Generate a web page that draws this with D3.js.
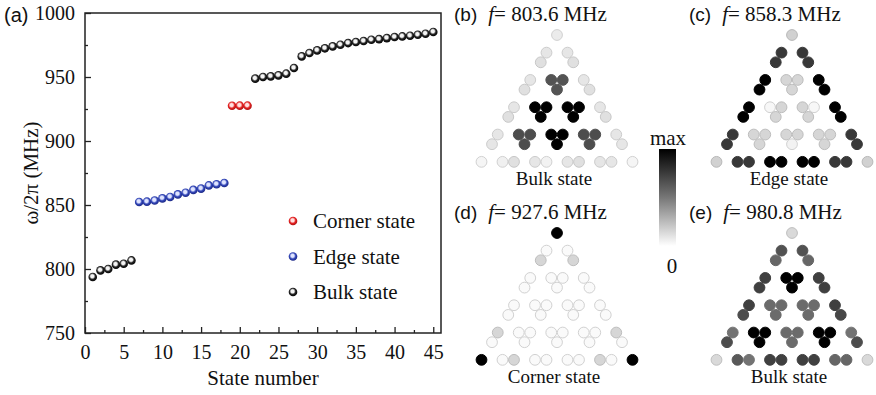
<!DOCTYPE html>
<html>
<head>
<meta charset="utf-8">
<script src="https://cdn.jsdelivr.net/npm/d3@7"></script>
<style>
body { margin: 0; background: #fff; }
text { fill: #111; }
</style>
</head>
<body>
<svg id="fig"></svg>
<script>
var width = 876, height = 395

// (a) eigenfrequencies vs state number
var bulkLowStates = [1, 2, 3, 4, 5, 6]
var bulkLowFreq = [793.8, 798.9, 800.0, 803.4, 804.1, 806.7]
var edgeStates = [7, 8, 9, 10, 11, 12, 13, 14, 15, 16, 17, 18]
var edgeFreq = [852.4, 852.6, 853.5, 855.2, 856.3, 858.3, 859.6, 861.8, 862.8, 865.3, 866.2, 867.2]
var cornerStates = [19, 20, 21]
var cornerFreq = [927.5, 927.6, 927.6]
var bulkHighStates = [22, 23, 24, 25, 26, 27, 28, 29, 30, 31, 32, 33, 34, 35, 36, 37, 38, 39, 40, 41, 42, 43, 44, 45]
var bulkHighFreq = [948.7, 950.0, 950.5, 951.3, 952.6, 957.0, 966.1, 968.7, 970.8, 972.4, 973.9, 975.2,
                    976.5, 977.3, 978.1, 979.1, 979.6, 980.4, 981.2, 981.7, 982.2, 983.0, 983.8, 985.2]
var xTicks = [0, 5, 10, 15, 20, 25, 30, 35, 40, 45]
var yTicks = [750, 800, 850, 900, 950, 1000]
var legendLabels = ["Corner state", "Edge state", "Bulk state"]

// (b)-(e) field amplitude on the 45 sites, one list per row of the triangle (top to bottom)
var fieldB = [[0.08], [0.1, 0.1], [0.12, 0.12], [0.1, 0.67, 0.67, 0.1], [0.12, 0.67, 0.12],
              [0.1, 1, 1, 1, 1, 0.1], [0.12, 1, 1, 0.12], [0.1, 0.7, 0.7, 1, 1, 0.7, 0.7, 0.1],
              [0.1, 0.7, 1, 0.7, 0.1], [0.04, 0.06, 0.12, 0.1, 0.05, 0.1, 0.12, 0.1, 0.1, 0.04]]
var fieldC = [[0.18], [0.78, 0.78], [0.78, 0.78], [1, 0.16, 0.16, 1], [1, 0.16, 1],
              [1, 0.03, 0.16, 0.16, 0.03, 1], [1, 0.16, 0.16, 1], [0.78, 0.16, 0.16, 0.16, 0.16, 0.16, 0.16, 0.78],
              [0.78, 0.16, 0.05, 0.16, 0.78], [0.18, 0.78, 0.78, 1, 1, 1, 1, 0.78, 0.78, 0.18]]
var fieldD = [[1], [0.02, 0.02], [0.16, 0.16], [0.02, 0.02, 0.02, 0.02], [0.02, 0.02, 0.02],
              [0.02, 0.02, 0.02, 0.02, 0.02, 0.02], [0.02, 0.02, 0.02, 0.02],
              [0.16, 0.02, 0.02, 0.02, 0.02, 0.02, 0.02, 0.16], [0.02, 0.02, 0.02, 0.02, 0.02],
              [1, 0.02, 0.16, 0.02, 0.02, 0.02, 0.02, 0.16, 0.02, 1]]
var fieldE = [[0.15], [0.68, 0.68], [0.6, 0.6], [0.75, 1, 1, 0.75], [0.75, 1, 0.75],
              [0.75, 0.58, 0.58, 0.58, 0.58, 0.75], [0.7, 0.58, 0.58, 0.72],
              [0.55, 1, 1, 0.58, 0.58, 1, 1, 0.55], [0.7, 1, 0.58, 1, 0.7],
              [0.15, 0.65, 0.55, 0.75, 0.75, 0.75, 0.75, 0.6, 0.6, 0.15]]
var panels = [
  {label: "(b)", freq: "803.6", name: "Bulk state", field: fieldB, cx: 557, top: 35},
  {label: "(c)", freq: "858.3", name: "Edge state", field: fieldC, cx: 792, top: 35},
  {label: "(d)", freq: "927.6", name: "Corner state", field: fieldD, cx: 557, top: 233},
  {label: "(e)", freq: "980.8", name: "Bulk state", field: fieldE, cx: 792, top: 233}
]

var svg = d3.select("#fig").attr("width", width).attr("height", height)
    .style("background", "#fff")
var defs = svg.append("defs")

// ---------- (a) ----------
var margin = {top: 13, right: 435, bottom: 62, left: 85}
var x = d3.scaleLinear().domain([0, 46]).range([margin.left, width - margin.right])
var y = d3.scaleLinear().domain([750, 1000]).range([height - margin.bottom, margin.top])

var serif = "'Liberation Serif', 'Times New Roman', serif"
var sans = "'Liberation Sans', Arial, sans-serif"

function ballGradient(id, light, mid, dark) {
  var g = defs.append("radialGradient").attr("id", id)
      .attr("cx", "45%").attr("cy", "42%").attr("r", "60%")
  g.append("stop").attr("offset", "0%").attr("stop-color", light)
  g.append("stop").attr("offset", "30%").attr("stop-color", light)
  g.append("stop").attr("offset", "60%").attr("stop-color", mid)
  g.append("stop").attr("offset", "100%").attr("stop-color", dark)
}
ballGradient("ballBlack", "#f4f4f4", "#222", "#000")
ballGradient("ballBlue", "#dfe4ff", "#3246b8", "#1a2580")
ballGradient("ballRed", "#ffe0e0", "#e52222", "#a50f0f")

var ga = svg.append("g")

var xMinor = d3.range(2.5, 46, 5)
var yMinor = d3.range(775, 1000, 50)

var xAxis = ga.append("g")
    .attr("transform", "translate(0," + y(750) + ")")
    .call(d3.axisBottom(x).tickValues(xTicks).tickFormat(d3.format("d"))
      .tickSizeInner(-6).tickSizeOuter(0).tickPadding(12))
var yAxis = ga.append("g")
    .attr("transform", "translate(" + x(0) + ",0)")
    .call(d3.axisLeft(y).tickValues(yTicks).tickFormat(d3.format("d"))
      .tickSizeInner(-6).tickSizeOuter(0).tickPadding(10))
ga.append("g").attr("transform", "translate(0," + y(750) + ")")
    .call(d3.axisBottom(x).tickValues(xMinor).tickFormat("").tickSizeInner(-3).tickSizeOuter(0))
ga.append("g").attr("transform", "translate(" + x(0) + ",0)")
    .call(d3.axisLeft(y).tickValues(yMinor).tickFormat("").tickSizeInner(-3).tickSizeOuter(0))
ga.selectAll(".domain").remove()
ga.selectAll(".tick line").attr("stroke", "#222").attr("stroke-width", 1.3)
ga.selectAll(".tick text").attr("font-family", serif).attr("font-size", "20px").attr("fill", "#111")

ga.append("rect")
    .attr("x", x(0)).attr("y", y(1000))
    .attr("width", x(46) - x(0)).attr("height", y(750) - y(1000))
    .attr("fill", "none").attr("stroke", "#222").attr("stroke-width", 1.5)

function addSeries(states, freqs, fill) {
  ga.selectAll(null)
    .data(states.map(function(s, i) { return {s: s, f: freqs[i]} }))
    .enter()
    .append("circle")
      .attr("cx", function(d) { return x(d.s) })
      .attr("cy", function(d) { return y(d.f) })
      .attr("r", 4.3)
      .attr("fill", fill)
}
addSeries(bulkLowStates, bulkLowFreq, "url(#ballBlack)")
addSeries(edgeStates, edgeFreq, "url(#ballBlue)")
addSeries(cornerStates, cornerFreq, "url(#ballRed)")
addSeries(bulkHighStates, bulkHighFreq, "url(#ballBlack)")

// legend
var legendFill = ["url(#ballRed)", "url(#ballBlue)", "url(#ballBlack)"]
var lg = ga.append("g").attr("transform", "translate(293,221)")
legendLabels.forEach(function(l, i) {
  lg.append("circle").attr("cx", 0).attr("cy", i * 35.5).attr("r", 4.3).attr("fill", legendFill[i])
  lg.append("text").attr("x", 20).attr("y", i * 35.5).attr("dy", "0.35em")
    .attr("font-family", serif).attr("font-size", "21px").text(l)
})

ga.append("text").attr("x", 4).attr("y", 22)
    .attr("font-family", sans).attr("font-size", "20px").text("(a)")
ga.append("text")
    .attr("transform", "translate(38," + ((y(750) + y(1000)) / 2) + ") rotate(-90)")
    .attr("text-anchor", "middle")
    .attr("font-family", serif).attr("font-size", "21px").text("ω/2π (MHz)")
ga.append("text").attr("x", (x(0) + x(46)) / 2).attr("y", 385)
    .attr("text-anchor", "middle")
    .attr("font-family", serif).attr("font-size", "21px").text("State number")

// ---------- (b)-(e) lattice maps ----------
var L = 32.5, beta = 0.646, s3 = Math.sqrt(3) / 2
var sites = []
for (var i = 0; i < 5; i++) {
  for (var j = 0; j <= i; j++) sites.push({row: 2 * i, u: j - i / 2, v: i * s3})
  for (var j = 0; j <= i; j++) {
    sites.push({row: 2 * i + 1, u: j - i / 2 - beta / 2, v: (i + beta) * s3})
    sites.push({row: 2 * i + 1, u: j - i / 2 + beta / 2, v: (i + beta) * s3})
  }
}
// order of sites inside each drawn row, left to right
var rowIndex = {}
sites.forEach(function(s) {
  rowIndex[s.row] = (rowIndex[s.row] || 0)
  s.col = rowIndex[s.row]++
})

var grey = d3.scaleLinear().domain([0, 1]).range(["#ffffff", "#000000"])

panels.forEach(function(p) {
  var px = d3.scaleLinear().domain([0, 1]).range([p.cx, p.cx + L])
  var py = d3.scaleLinear().domain([0, 1]).range([p.top, p.top + L * 0.97])
  var g = svg.append("g")
  g.selectAll("circle")
    .data(sites)
    .enter()
    .append("circle")
      .attr("cx", function(d) { return px(d.u) })
      .attr("cy", function(d) { return py(d.v) })
      .attr("r", 5.4)
      .attr("fill", function(d) { return grey(p.field[d.row][d.col]) })
      .attr("stroke", function(d) {
        var v = p.field[d.row][d.col]
        return v < 0.3 ? grey(Math.max(v, 0.08) + 0.1) : grey(v)
      })
      .attr("stroke-width", 1)
  var t = svg.append("text").attr("x", p.cx - 103).attr("y", p.top - 14)
      .attr("font-family", serif).attr("font-size", "21px")
  t.append("tspan").attr("font-family", sans).attr("font-size", "19px").text(p.label)
  t.append("tspan").attr("dx", 11).attr("font-style", "italic").text("f")
  t.append("tspan").text("= " + p.freq + " MHz")
  svg.append("text").attr("x", p.cx - 3).attr("y", p.top + 150)
    .attr("text-anchor", "middle")
    .attr("font-family", serif).attr("font-size", "19px").text(p.name)
})

// colour bar
var cb = defs.append("linearGradient").attr("id", "cbar")
    .attr("x1", 0).attr("y1", 0).attr("x2", 0).attr("y2", 1)
cb.append("stop").attr("offset", "0%").attr("stop-color", "#000")
cb.append("stop").attr("offset", "50%").attr("stop-color", "#777")
cb.append("stop").attr("offset", "100%").attr("stop-color", "#fff")
svg.append("rect").attr("x", 659).attr("y", 149).attr("width", 17).attr("height", 97)
    .attr("fill", "url(#cbar)")
svg.append("text").attr("x", 668).attr("y", 145).attr("text-anchor", "middle")
    .attr("font-family", serif).attr("font-size", "21px").text("max")
svg.append("text").attr("x", 672).attr("y", 273).attr("text-anchor", "middle")
    .attr("font-family", serif).attr("font-size", "21px").text("0")
</script>
</body>
</html>
